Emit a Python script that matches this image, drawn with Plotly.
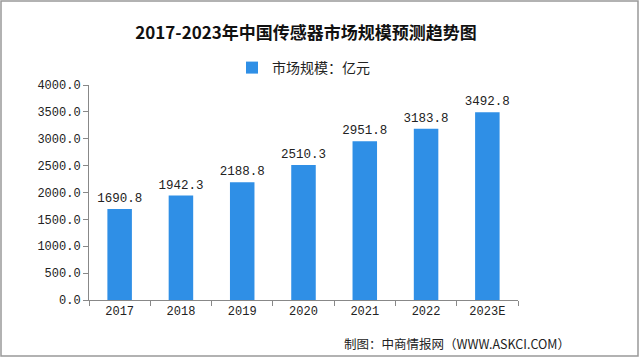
import plotly.graph_objects as go

years = ["2017", "2018", "2019", "2020", "2021", "2022", "2023E"]
market_size = [1690.8, 1942.3, 2188.8, 2510.3, 2951.8, 3183.8, 3492.8]
y_ticks = [0, 500, 1000, 1500, 2000, 2500, 3000, 3500, 4000]

W, H = 640, 358
L, R, T, B = 89, 122, 85, 58
pw, ph = W - L - R, H - T - B

def px(x):
    return (x - L) / pw

def py(y):
    return (H - B - y) / ph

num_font = "Liberation Mono, DejaVu Sans Mono, monospace"
cjk_font = "Noto Sans CJK SC, sans-serif"

fig = go.Figure()
fig.add_trace(go.Bar(
    x=years, y=market_size, name="市场规模：亿元",
    marker=dict(color="#2F8FE6", line=dict(width=0)),
    text=[f"{v:.1f}" for v in market_size],
    textposition="outside", cliponaxis=False, constraintext="none",
    textfont=dict(family=num_font, size=12.5, color="#222222"),
))

fig.update_layout(
    width=W, height=H,
    margin=dict(l=L, r=R, t=T, b=B, autoexpand=False),
    paper_bgcolor="white", plot_bgcolor="white",
    bargap=0.6,
    showlegend=True,
    legend=dict(orientation="h", x=px(232), y=py(68), xanchor="left", yanchor="middle",
                font=dict(family=cjk_font, size=14, color="#222222"),
                itemwidth=30, bgcolor="rgba(0,0,0,0)"),
    title=dict(text="<b>2017-2023年中国传感器市场规模预测趋势图</b>",
               x=px(306), xref="paper", xanchor="center",
               y=1 - 33 / H, yanchor="middle",
               font=dict(family=cjk_font, size=17, color="#111111")),
    xaxis=dict(type="category", showline=True, linecolor="#888888", linewidth=1,
               ticks="outside", tickson="boundaries", ticklen=5, tickcolor="#888888",
               tickfont=dict(family=num_font, size=12, color="#222222"),
               showgrid=False, automargin=False),
    yaxis=dict(range=[0, 4000], tickvals=y_ticks,
               ticktext=[f"{v:.1f}" for v in y_ticks],
               showline=True, linecolor="#888888", linewidth=1,
               ticks="outside", ticklen=5, tickcolor="#888888",
               tickfont=dict(family=num_font, size=12, color="#222222"),
               showgrid=False, zeroline=False, automargin=False),
)

fig.add_annotation(text="制图：中商情报网（WWW.ASKCI.COM）",
                   xref="paper", yref="paper", x=px(572), y=py(343),
                   xanchor="right", yanchor="middle", showarrow=False,
                   font=dict(family=cjk_font, size=12.5, color="#222222"))

fig.add_shape(type="rect", xref="paper", yref="paper",
              x0=px(1), x1=px(638), y0=py(356), y1=py(1),
              line=dict(color="#999999", width=1.5), fillcolor="rgba(0,0,0,0)")

fig.write_html("out.html", config={"displayModeBar": False},
               post_script="document.body.style.margin='0';document.body.style.overflow='hidden';")
